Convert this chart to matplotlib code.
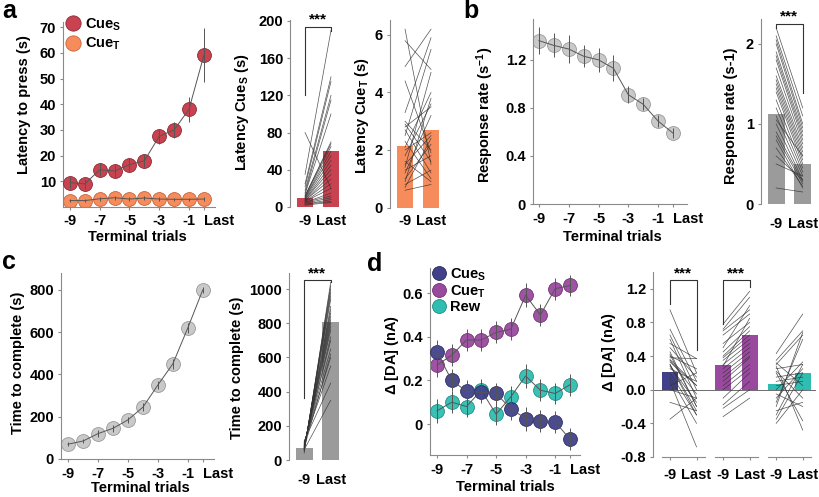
import matplotlib
matplotlib.use('Agg')
import matplotlib.pyplot as plt
from matplotlib.lines import Line2D

plt.rcParams['font.family'] = ['Liberation Sans', 'DejaVu Sans']
plt.rcParams['font.weight'] = 'bold'
plt.rcParams['axes.labelweight'] = 'bold'
plt.rcParams['mathtext.fontset'] = 'custom'
plt.rcParams['mathtext.rm'] = 'Liberation Sans:bold'
plt.rcParams['mathtext.bf'] = 'Liberation Sans:bold'
plt.rcParams['mathtext.it'] = 'Liberation Sans:bold'

# ---------------- data ----------------
trials = [-9, -8, -7, -6, -5, -4, -3, -2, -1, 0]
trial_ticks = [-9, -7, -5, -3, -1, 0]
trial_labels = ['-9', '-7', '-5', '-3', '-1', 'Last']
pair_labels = ['-9', 'Last']

# panel a
lat_cueS = [9.5, 9.0, 14.5, 14.0, 16.5, 18.0, 27.5, 30.0, 38.0, 59.0]
lat_cueS_err = [2, 2, 2.5, 2.5, 2.5, 2.5, 3, 3, 5, 10.5]
lat_cueT = [2.5, 2.5, 3.2, 3.6, 3.1, 3.5, 3.1, 3.0, 3.0, 3.1]
lat_cueT_err = [0.6, 0.6, 0.7, 0.7, 0.6, 0.7, 0.6, 0.6, 0.6, 0.6]

latS_bar = [10, 60]
latS_pre = [2, 3, 4, 5, 5, 6, 6, 7, 7, 8, 8, 9, 10, 10, 11, 12, 12, 14, 15, 18, 22, 25, 35, 80, 3]
latS_post = [5, 8, 10, 12, 15, 20, 25, 30, 35, 40, 45, 50, 55, 60, 65, 68, 70, 100, 115, 120, 135, 140, 190, 20, 6]

latT_bar = [2.15, 2.7]
latT_pre = [6.2, 5.8, 4.9, 4.4, 3.3, 2.8, 2.7, 2.5, 2.3, 2.1, 2.0, 1.8, 1.6, 1.5, 1.4, 1.3, 1.2, 1.0, 0.9, 0.8, 0.7, 0.6, 3.0, 2.9]
latT_post = [1.5, 4.8, 6.2, 1.9, 5.9, 3.5, 1.2, 5.5, 1.0, 4.0, 2.6, 3.6, 0.9, 2.5, 4.7, 1.8, 3.2, 2.2, 3.8, 1.3, 2.4, 0.8, 2.0, 1.6]

# panel b
resp_rate = [1.36, 1.32, 1.29, 1.23, 1.20, 1.13, 0.91, 0.83, 0.69, 0.59]
resp_rate_err = [0.11, 0.10, 0.12, 0.09, 0.10, 0.11, 0.07, 0.05, 0.05, 0.04]
rate_bar = [1.13, 0.5]
rate_pre = [2.2, 2.1, 2.05, 2.0, 1.9, 1.85, 1.8, 1.7, 1.6, 1.55, 1.5, 1.45, 1.4, 1.3, 1.2, 1.1, 1.0, 0.9, 0.85, 0.8, 0.7, 0.6, 0.5, 0.2, 1.05]
rate_post = [1.2, 1.1, 1.0, 0.95, 0.9, 0.85, 0.8, 0.75, 0.7, 0.65, 0.6, 0.55, 0.5, 0.45, 0.4, 0.35, 0.3, 0.28, 0.25, 0.2, 0.22, 0.3, 0.35, 0.15, 0.6]

# panel c
time_comp = [70, 85, 120, 145, 185, 245, 350, 450, 620, 800]
time_comp_err = [10, 10, 15, 15, 15, 20, 20, 25, 25, 15]
time_bar = [70, 805]
time_pre = [40, 50, 55, 60, 62, 65, 68, 70, 72, 75, 78, 80, 82, 85, 88, 90, 95, 100, 105, 110, 60, 70]
time_post = [1040, 1020, 1000, 980, 960, 940, 900, 880, 860, 840, 820, 800, 780, 760, 720, 700, 650, 600, 550, 450, 350, 620]

# panel d
da_cueS = [0.33, 0.20, 0.15, 0.145, 0.14, 0.07, 0.025, 0.015, 0.01, -0.07]
da_cueT = [0.27, 0.315, 0.385, 0.385, 0.42, 0.435, 0.59, 0.50, 0.62, 0.635]
da_rew = [0.06, 0.10, 0.08, 0.155, 0.045, 0.125, 0.22, 0.155, 0.14, 0.18]
da_err = [0.055, 0.05, 0.05, 0.05, 0.05, 0.05, 0.055, 0.05, 0.05, 0.05]

daS_bar = [0.21, -0.005]
daS_pre = [0.95, 0.72, 0.65, 0.6, 0.55, 0.5, 0.45, 0.4, 0.38, 0.35, 0.33, 0.3, 0.28, 0.25, 0.2, 0.15, 0.1, 0.05, 0.0, -0.15, -0.35, 0.36, 0.42, 0.3]
daS_post = [0.2, 0.1, 0.0, -0.1, 0.37, 0.15, -0.2, 0.25, 0.37, -0.05, 0.05, -0.25, -0.15, 0.1, -0.3, -0.4, -0.68, 0.2, -0.1, -0.25, -0.1, 0.05, -0.2, -0.3]
daT_bar = [0.29, 0.65]
daT_pre = [0.78, 0.72, 0.7, 0.65, 0.55, 0.45, 0.4, 0.38, 0.35, 0.3, 0.25, 0.2, 0.15, 0.1, 0.05, 0.0, -0.1, -0.18, -0.22, -0.32, 0.5, 0.28]
daT_post = [1.17, 1.1, 0.95, 0.9, 0.8, 0.75, 0.7, 0.65, 0.6, 0.55, 0.5, 0.45, 0.4, 0.38, 0.3, 0.25, 0.2, 0.1, 0.0, -0.1, 1.0, 0.85]
daR_bar = [0.07, 0.2]
daR_pre = [0.43, 0.35, 0.3, 0.28, 0.25, 0.2, 0.15, 0.1, 0.05, 0.0, -0.05, -0.1, -0.15, -0.2, -0.25, -0.3, -0.35, -0.4, 0.32, 0.22]
daR_post = [0.9, 0.7, 0.65, -0.48, 0.3, -0.37, 0.2, 0.15, 0.1, 0.33, -0.2, 0.25, 0.6, 0.68, -0.15, 0.3, 0.2, 0.0, 0.05, -0.1]

# ---------------- styling ----------------
RED = '#c8434f'; RED_E = '#8c2a35'
ORANGE = '#f68b5b'; ORANGE_E = '#c9653c'
GREY = '#c9c9c9'; GREY_E = '#9a9a9a'; GREY_BAR = '#9b9b9b'
NAVY = '#41418a'; PURPLE = '#9a4a9e'; TEAL = '#2fbdb1'
SPINE = '#8a8a8a'
FS = 10.5

W, H = 820, 497
fig = plt.figure(figsize=(W / 100, H / 100), dpi=100)


def add_ax(l, t, r, b):
    return fig.add_axes([l / W, 1 - b / H, (r - l) / W, (b - t) / H])


def style(ax, bottom=True):
    for s in ['top', 'right']:
        ax.spines[s].set_visible(False)
    for s in ['left', 'bottom']:
        ax.spines[s].set_color(SPINE)
        ax.spines[s].set_linewidth(0.8)
    if not bottom:
        ax.spines['bottom'].set_visible(False)
    ax.tick_params(axis='both', labelsize=FS, length=2, width=0.8, color=SPINE, pad=3)
    for lab in ax.get_xticklabels() + ax.get_yticklabels():
        lab.set_fontweight('bold')


def ftext(x, y, s, **kw):
    kw.setdefault('fontsize', FS)
    kw.setdefault('fontweight', 'bold')
    fig.text(x / W, 1 - y / H, s, ha='center', va='center', **kw)


def trial_series(ax, y, err, fc, ec, z, ms=10, alpha=1.0):
    ax.plot(trials, y, 'o', ms=ms, mfc=fc, mec=ec, mew=0.6, alpha=alpha, zorder=z)
    ax.errorbar(trials, y, yerr=err, fmt='-', color='#555555', lw=0.7,
                elinewidth=0.7, capsize=0, zorder=z + 0.5)


def paired(ax, xs, pre, post, bars, color, width=0.64):
    ax.bar(xs, bars, width=width, color=color, zorder=1)
    for a, b in zip(pre, post):
        ax.plot(xs, [a, b], color='#333333', lw=0.5, alpha=0.85, zorder=2)


def bracket(ax, x0, x1, yl, ytop, yr, fs=11):
    ax.plot([x0, x0, x1, x1], [yl, ytop, ytop, yr], color='#333333', lw=0.8,
            zorder=3, clip_on=False)
    ax.text((x0 + x1) / 2, ytop, '***', ha='center', va='bottom', fontsize=fs,
            fontweight='bold', clip_on=False)


def trial_axis(ax):
    ax.set_xticks(trial_ticks)
    ax.set_xticklabels(trial_labels)


def last_left(ax):
    ax.get_xticklabels()[-1].set_horizontalalignment('left')


# ---------------- panel a ----------------
ax = add_ax(63, 22, 215, 207)
trial_series(ax, lat_cueT, lat_cueT_err, ORANGE, ORANGE_E, 2)
trial_series(ax, lat_cueS, lat_cueS_err, RED, RED_E, 4)
ax.set_xlim(-9.47, 0.75)
ax.set_ylim(0, 72)
ax.set_yticks([10, 20, 30, 40, 50, 60, 70])
trial_axis(ax)
style(ax)
last_left(ax)
handles = [Line2D([], [], ls='', marker='o', ms=11, mfc=RED, mec=RED_E, mew=0.6),
           Line2D([], [], ls='', marker='o', ms=11, mfc=ORANGE, mec=ORANGE_E, mew=0.6)]
ax.legend(handles, [r'Cue$_{\mathbf{S}}$', r'Cue$_{\mathbf{T}}$'], loc='upper left',
          bbox_to_anchor=(0.02, 1.03), frameon=False, handlelength=1.0,
          handletextpad=0.3, labelspacing=0.2, borderaxespad=0, borderpad=0,
          prop={'weight': 'bold', 'size': FS})
ftext(24, 105, 'Latency to press (s)', rotation=90)
ftext(137, 237, 'Terminal trials')

# a2
ax = add_ax(290, 20, 344, 207)
paired(ax, [0, 1], latS_pre, latS_post, latS_bar, RED)
ax.set_xlim(-0.58, 1.5)
ax.set_ylim(0, 201)
ax.set_yticks([0, 40, 80, 120, 160, 200])
ax.set_xticks([0, 1]); ax.set_xticklabels(pair_labels)
style(ax, bottom=False)
ax.tick_params(axis='x', length=0, pad=5)
bracket(ax, 0, 1, 120, 194, 189)
ftext(242, 112, r'Latency Cue$_{\mathbf{S}}$ (s)', rotation=90)

# a3
ax = add_ax(390, 20, 444, 207.5)
paired(ax, [0, 1], latT_pre, latT_post, latT_bar, ORANGE)
ax.set_xlim(-0.58, 1.5)
ax.set_ylim(0, 6.52)
ax.set_yticks([0, 2, 4, 6])
ax.set_xticks([0, 1]); ax.set_xticklabels(pair_labels)
style(ax, bottom=False)
ax.tick_params(axis='x', length=0, pad=5)
ftext(362, 116, r'Latency Cue$_{\mathbf{T}}$ (s)', rotation=90)

# ---------------- panel b ----------------
ax = add_ax(533, 19, 687, 204)
trial_series(ax, resp_rate, resp_rate_err, GREY, GREY_E, 2)
ax.set_xlim(-9.4, 0.94)
ax.set_ylim(0, 1.54)
ax.set_yticks([0, 0.4, 0.8, 1.2])
ax.set_yticklabels(['0', '0.4', '0.8', '1.2'])
trial_axis(ax)
style(ax)
last_left(ax)
ax.tick_params(axis='x', pad=4)
ftext(485, 115, r'Response rate (s$^{\mathbf{-1}}$)', rotation=90)
ftext(612, 237, 'Terminal trials')

# b2
ax = add_ax(761, 19, 816, 204)
paired(ax, [0, 1], rate_pre, rate_post, rate_bar, GREY_BAR)
ax.set_xlim(-0.57, 1.5)
ax.set_ylim(0, 2.31)
ax.set_yticks([0, 1, 2])
ax.set_xticks([0, 1]); ax.set_xticklabels(pair_labels)
style(ax, bottom=False)
ax.tick_params(axis='x', length=0, pad=9)
bracket(ax, 0, 1, 2.2, 2.25, 1.39)
ftext(731, 116, 'Response rate (s-1)', rotation=90)

# ---------------- panel c ----------------
ax = add_ax(61, 273, 214, 459)
trial_series(ax, time_comp, time_comp_err, GREY, GREY_E, 2)
ax.set_xlim(-9.47, 0.75)
ax.set_ylim(0, 880)
ax.set_yticks([0, 200, 400, 600, 800])
trial_axis(ax)
style(ax)
last_left(ax)
ax.tick_params(axis='x', pad=4)
ftext(18, 363, 'Time to complete (s)', rotation=90)
ftext(140, 488, 'Terminal trials')

# c2
ax = add_ax(289, 273, 344, 460)
paired(ax, [0, 1], time_pre, time_post, time_bar, GREY_BAR)
ax.set_xlim(-0.57, 1.5)
ax.set_ylim(0, 1094)
ax.set_yticks([0, 200, 400, 600, 800, 1000])
ax.set_xticks([0, 1]); ax.set_xticklabels(pair_labels)
style(ax, bottom=False)
ax.tick_params(axis='x', length=0, pad=9)
bracket(ax, 0, 1, 365, 1052, 1040)
ftext(237, 368, 'Time to complete (s)', rotation=90)

# ---------------- panel d ----------------
ax = add_ax(430, 268, 580, 455)
trial_series(ax, da_cueT, da_err, PURPLE, '#6e2f72', 2, alpha=0.95)
trial_series(ax, da_rew, da_err, TEAL, '#1f8a80', 4, alpha=0.95)
trial_series(ax, da_cueS, da_err, NAVY, '#2a2a60', 6, alpha=0.95)
ax.set_xlim(-9.47, 0.68)
ax.set_ylim(-0.142, 0.715)
ax.set_yticks([0, 0.2, 0.4, 0.6])
ax.set_yticklabels(['0', '0.2', '0.4', '0.6'])
trial_axis(ax)
style(ax)
last_left(ax)
ax.tick_params(axis='x', pad=4)
handles = [Line2D([], [], ls='', marker='o', ms=10, mfc=c, mec=e, mew=0.6)
           for c, e in [(NAVY, '#2a2a60'), (PURPLE, '#6e2f72'), (TEAL, '#1f8a80')]]
ax.legend(handles, [r'Cue$_{\mathbf{S}}$', r'Cue$_{\mathbf{T}}$', 'Rew'], loc='upper left',
          bbox_to_anchor=(0.01, 1.01), frameon=False, handlelength=1.0,
          handletextpad=0.3, labelspacing=0.05, borderaxespad=0, borderpad=0,
          prop={'weight': 'bold', 'size': FS})
ftext(392, 355, r'$\Delta$ [DA] (nA)', rotation=90)
ftext(505, 487, 'Terminal trials')

# d2
ax = add_ax(653, 272, 816, 457)
paired(ax, [0, 1], daS_pre, daS_post, daS_bar, NAVY, width=0.6)
paired(ax, [2, 3], daT_pre, daT_post, daT_bar, PURPLE, width=0.6)
paired(ax, [4, 5], daR_pre, daR_post, daR_bar, TEAL, width=0.6)
ax.axhline(0, color='#555555', lw=0.6, zorder=1.5)
ax.set_xlim(-0.64, 5.5)
ax.set_ylim(-0.8, 1.40)
ax.set_yticks([-0.8, -0.4, 0.0, 0.4, 0.8, 1.2])
ax.set_yticklabels(['-0.8', '-0.4', '0.0', '0.4', '0.8', '1.2'])
ax.set_xticks([0, 1, 2, 3, 4, 5])
ax.set_xticklabels(pair_labels * 3)
style(ax, bottom=False)
ax.tick_params(axis='x', pad=6, length=2)
for g in [0, 2, 4]:
    ax.plot([g - 0.3, g + 1.3], [-0.8, -0.8], color=SPINE, lw=0.8, clip_on=False)
bracket(ax, 0, 1, 1.02, 1.30, 0.47)
bracket(ax, 2, 3, 0.78, 1.30, 1.22)
ftext(609, 352, r'$\Delta$ [DA] (nA)', rotation=90)

# panel letters
for x, y, s in [(9, 11, 'a'), (471, 11, 'b'), (9, 262, 'c'), (375, 264, 'd')]:
    ftext(x, y, s, fontsize=18)

fig.savefig('out.png', dpi=100)
